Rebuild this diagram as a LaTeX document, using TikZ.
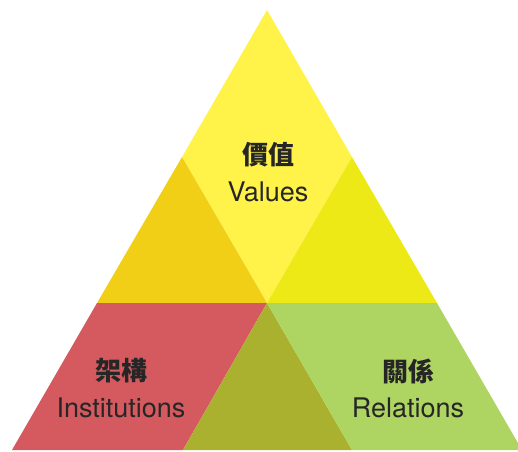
\documentclass[tikz,border=0pt]{standalone}
\usepackage{fontspec}
\usepackage{tikz}
\usetikzlibrary{positioning}
\newfontfamily\cjk{Noto Sans CJK TC}
\newfontfamily\latfont{TeX Gyre Heros}
\definecolor{valyellow}{RGB}{255,243,74}
\definecolor{valorange}{RGB}{242,207,23}
\definecolor{vallime}{RGB}{237,233,22}
\definecolor{instred}{RGB}{212,90,96}
\definecolor{midolive}{RGB}{170,177,46}
\definecolor{relgreen}{RGB}{174,212,98}

\begin{document}
\begin{tikzpicture}[x=1pt,y=-1pt,node distance=37pt,on grid,
		part/.style={draw=none},
		zh/.style={inner sep=0pt,font=\cjk\bfseries\fontsize{26}{26}\selectfont,text=black!85},
		en/.style={inner sep=0pt,font=\latfont\fontsize{27}{27}\selectfont,text=black!85}]
		\useasboundingbox (0,0) rectangle (518,451);
		\clip (0,0) rectangle (518,451);
		
		\coordinate (apex) at (267,10);
		\coordinate (ml)   at (182,157);
		\coordinate (mr)   at (352,157);
		\coordinate (lm)   at (97,303);
		\coordinate (cm)   at (267,303);
		\coordinate (rm)   at (437,303);
		\coordinate (bl)   at (12,450);
		\coordinate (bc1)  at (183,450);
		\coordinate (bc2)  at (352,450);
		\coordinate (br)   at (522,450);
		
		% top part
		\fill[part,valyellow] (apex) -- (mr) -- (cm) -- (ml) -- cycle;
		\fill[part,valorange] (ml) -- (cm) -- (lm) -- cycle;
		\fill[part,vallime]   (mr) -- (rm) -- (cm) -- cycle;
		% lower part
		\fill[part,instred]   (lm) -- (cm) -- (bc1) -- (bl) -- cycle;
		\fill[part,midolive]  (cm) -- (bc2) -- (bc1) -- cycle;
		\fill[part,relgreen]  (cm) -- (rm) -- (br) -- (bc2) -- cycle;
		
		\node[zh] (valzh)              at (268,155) {價值};
		\node[en] (valen) [below=of valzh]       {Values};
		\node[zh] (instzh)             at (121,371) {架構};
		\node[en] (insten) [below=of instzh]     {Institutions};
		\node[zh] (relzh)              at (408,371) {關係};
		\node[en] (relen) [below=of relzh]       {Relations};
\end{tikzpicture}
\end{document}
